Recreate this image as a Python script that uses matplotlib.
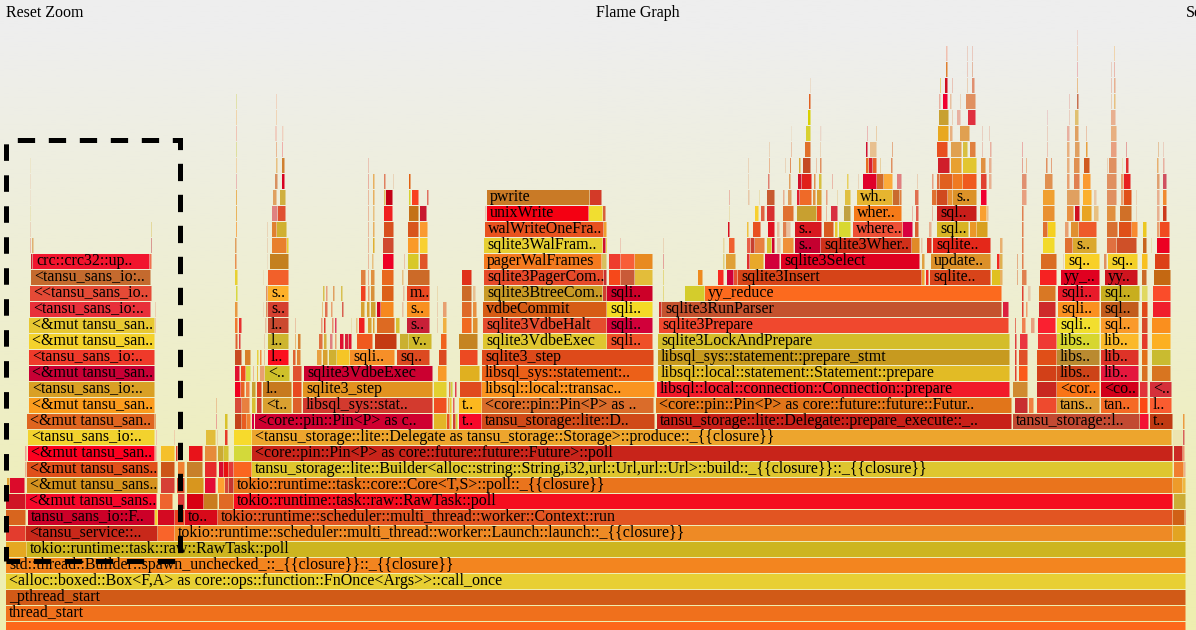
"""Flame graph of the tansu produce path, sampled stacks from the bottom frame up."""
import numpy as np
import matplotlib.pyplot as plt
from matplotlib.colors import LinearSegmentedColormap
from matplotlib.lines import Line2D

WIDTH, HEIGHT = 1196, 630
ROW = 16  # pixels per stack level

# Frames per stack depth: (first sample, last sample[, function name]), fills alongside
depth_0 = [(6, 1186)]
fills_0 = ["#fd671b"]
depth_1 = [(6, 1186, "thread_start")]
fills_1 = ["#f0701c"]
depth_2 = [(6, 1186, "_pthread_start")]
fills_2 = ["#d15a17"]
depth_3 = [(6, 1186, "<alloc::boxed::Box<F,A> as core::ops::function::FnOnce<Args>>::call_once")]
fills_3 = ["#e8cf33"]
depth_4 = [(6, 1186, "std::thread::Builder::spawn_unchecked_::_{{closure}}::_{{closure}}")]
fills_4 = ["#f3851f"]
depth_5 = [(6, 27), (27, 1186, "tokio::runtime::task::raw::RawTask::poll")]
fills_5 = ["#e5a822", "#cdb51f"]
depth_6 = [(6, 26), (26, 158, "<tansu_service::.."), (158, 175),
           (175, 1173, "tokio::runtime::scheduler::multi_thread::worker::Launch::launch::_{{closure}}"), (1173, 1186)]
fills_6 = ["#e33c2e", "#c8281a", "#f9642a", "#ee8a25", "#e2a422"]
depth_7 = [(6, 26), (28, 155, "tansu_sans_io::F.."), (155, 158), (158, 175), (175, 185), (185, 218, "to.."),
           (218, 1173, "tokio::runtime::scheduler::multi_thread::worker::Context::run"), (1173, 1185), (1185, 1186)]
fills_7 = ["#d8651e", "#cc0028", "#f4d030", "#d40a22", "#ea4020", "#d80a1a", "#e25522", "#d06016", "#e08060"]
depth_8 = [(6, 26), (26, 157, "<&mut tansu_sans.."), (160, 173), (178, 185), (187, 204), (204, 218), (219, 234),
           (234, 1173, "tokio::runtime::task::raw::RawTask::poll"), (1174, 1186)]
fills_8 = ["#cf1525", "#f5082a", "#ee642e", "#dd3a35", "#d80012", "#c97c1f", "#e06a25", "#f50d1f", "#ccac36"]
depth_9 = [(7, 10), (10, 25), (27, 158, "<&mut tansu_sans.."), (161, 175), (177, 185), (187, 204), (205, 216),
           (218, 225), (225, 229), (229, 234),
           (234, 1173, "tokio::runtime::task::core::Core<T,S>::poll::_{{closure}}"), (1173, 1183), (1183, 1186)]
fills_9 = ["#e0a030", "#dc0b2b", "#d5921e", "#d63f35", "#dd4a2a", "#d8961e", "#e30c36", "#ffa030", "#d5483a",
           "#c63530", "#ea741c", "#ed9b2a", "#eeb840"]
depth_10 = [(25, 27), (27, 158, "<&mut tansu_sans.."), (161, 175), (178, 185), (187, 203), (205, 217), (219, 224),
            (224, 229), (229, 234), (234, 252),
            (252, 1173, "tansu_storage::lite::Builder<alloc::string::String,i32,url::Url,url::Url>::build::_{{closure}}::_{{closure}}"),
            (1174, 1184), (1184, 1186)]
fills_10 = ["#e8b090", "#e0501a", "#cc5518", "#f08030", "#c8802a", "#e62a2a", "#d80a2e", "#e8100f", "#e33a3a",
            "#fa6620", "#dec62f", "#f07f2f", "#eab090"]
depth_11 = [(25, 27), (28, 155, "<&mut tansu_san.."), (155, 157), (161, 175), (176, 178), (189, 203), (205, 217),
            (218, 224), (224, 229), (234, 252),
            (252, 1173, "<core::pin::Pin<P> as core::future::future::Future>::poll"), (1174, 1183), (1183, 1185)]
fills_11 = ["#f0a090", "#fc001f", "#e8a090", "#f5c02a", "#e04030", "#e8131a", "#e68b3a", "#cbaa33", "#d4c332",
            "#d3d93a", "#c8241a", "#cb2a24", "#f09070"]
depth_12 = [(28, 155, "<tansu_sans_io:.."), (156, 157), (174, 175), (206, 216), (217, 218), (225, 228), (234, 252),
            (252, 1172, "<tansu_storage::lite::Delegate as tansu_storage::Storage>::produce::_{{closure}}"),
            (1173, 1183), (1183, 1185)]
fills_12 = ["#f2d22e", "#f0b0a0", "#f0c0a0", "#e2bd3a", "#e8c8a0", "#e63b28", "#f7da2c", "#eda52d", "#ece4b0",
            "#d9605a"]
depth_13 = [(27, 155, "<&mut tansu_san.."), (155, 156), (216, 217), (225, 228), (235, 242), (242, 247), (247, 251),
            (252, 254.5), (255, 433, "<core::pin::Pin<P> as c.."), (434, 447), (447, 450), (450, 452), (453, 456),
            (456, 458), (459, 482, "t.."), (482, 655, "tansu_storage::lite::D.."),
            (657, 1012, "tansu_storage::lite::Delegate::prepare_execute::_.."),
            (1013, 1140, "tansu_storage::l.."), (1140, 1149), (1150, 1173, "t.."), (1183, 1185)]
fills_13 = ["#df6520", "#e08040", "#e88080", "#d9c22a", "#c4421a", "#e85c20", "#f08030", "#d80040", "#cf0030",
            "#e3b527", "#e85020", "#e8c830", "#d04030", "#d8d030", "#f7082a", "#d04a18", "#c82018", "#c24a32",
            "#f31233", "#c03a12", "#ec9b40"]
depth_14 = [(29, 155, "<&mut tansu_san.."), (216, 217), (235, 242), (242, 250), (252, 256), (257, 262),
            (263, 292, "<t.."), (293, 302), (303, 433, "libsql_sys::stat.."), (434, 447), (448, 450), (450, 452),
            (453, 455), (459, 482, "t.."), (482, 654, "<core::pin::Pin<P> as .."),
            (656, 1012, "<core::pin::Pin<P> as core::future::future::Futur.."), (1015, 1028), (1029, 1034),
            (1037, 1057), (1057, 1100, "tans.."), (1101, 1139, "tan.."), (1140, 1148), (1150, 1172, "l..")]
fills_14 = ["#fb9c1e", "#e8b080", "#d84a38", "#e88040", "#d8c030", "#d04030", "#d9a030", "#de602a", "#d33a2e",
            "#f04f20", "#e8a050", "#e8c830", "#e06060", "#fcb81f", "#da6c2a", "#e1751a", "#c82e30", "#f08040",
            "#ee4a2e", "#dd9c32", "#f56a25", "#fc4a14", "#fa5c30"]
depth_15 = [(29, 155, "<tansu_sans_io:.."), (235, 241), (241, 245), (246, 250), (252, 256), (257, 262),
            (263, 292, "l.."), (293, 302), (303, 433, "sqlite3_step"), (434, 447), (449, 451), (451, 453), (455, 457),
            (460, 482), (482, 655, "libsql::local::transac.."),
            (657, 1010, "libsql::local::connection::Connection::prepare"), (1013, 1028), (1037, 1057),
            (1057, 1100, "<cor.."), (1101, 1139, "<co.."), (1140, 1148), (1150, 1172, "<..")]
fills_15 = ["#d9a025", "#f00020", "#e86020", "#f08040", "#c8a030", "#e04020", "#c77a1f", "#e84a20", "#e29220",
            "#e3d030", "#e08040", "#d0d040", "#e04050", "#e04a1e", "#fa9420", "#f11a2a", "#d08a30", "#c82820",
            "#f97516", "#d2001a", "#e0353a", "#d5303a"]
depth_16 = [(29, 155, "<&mut tansu_san.."), (235, 240), (241, 246), (246, 251), (253, 254), (257, 258.5), (260, 265),
            (265, 290, "<.."), (293, 302), (304, 433, "sqlite3VdbeExec"), (438, 447), (460, 480),
            (482, 654, "libsql_sys::statement:.."),
            (658, 1010, "libsql::local::statement::Statement::prepare"), (1015, 1017), (1019, 1028), (1037, 1057),
            (1057, 1100, "libs.."), (1101, 1139, "lib.."), (1142, 1148), (1152, 1171)]
fills_16 = ["#c80035", "#e01030", "#f04a20", "#d8d840", "#e8a080", "#e8c040", "#e8a070", "#cfc02a", "#e05030",
            "#cb0030", "#f89a28", "#e0b020", "#ec6018", "#e2bb25", "#e04030", "#fb5a1a", "#d24018", "#cd4318",
            "#e4173d", "#d87020", "#d87520"]
depth_17 = [(29, 155, "<tansu_sans_io:.."), (235, 242), (245, 251), (257, 259), (260, 262), (264, 265),
            (268, 289, "l.."), (293, 296), (297, 301), (317, 322), (323, 328), (329, 337), (337, 350),
            (350, 395, "sqli.."), (397, 430, "sq.."), (439, 447), (460, 478), (482, 654, "sqlite3_step"),
            (658, 1010, "libsql_sys::statement::prepare_stmt"), (1015, 1017), (1019, 1028), (1037, 1057),
            (1057, 1100, "libs.."), (1101, 1139, "lib.."), (1142, 1148), (1152, 1171)]
fills_17 = ["#ef3a2a", "#c84a20", "#d88028", "#e8d040", "#f09040", "#e8b080", "#fb0f1f", "#e06030", "#e08030",
            "#e8a040", "#d8a030", "#d0b030", "#f5c526", "#f68f28", "#dc4a20", "#dc4a20", "#ec4a22", "#de4a1a",
            "#c79a1f", "#e04030", "#e05028", "#e04f18", "#ba8a30", "#de3328", "#e27018", "#c9bb30"]
depth_18 = [(29, 155, "<&mut tansu_san.."), (235.5, 238), (239, 241), (264, 265), (268, 289, "l.."), (295, 296),
            (298, 301), (319, 323), (324, 327), (330, 333), (335, 337), (340, 344), (345, 349), (349, 352), (357, 373),
            (375, 397), (400, 409), (409, 432, "v.."), (441, 447), (459, 478), (483, 607, "sqlite3VdbeExec"),
            (607, 653, "sqli.."), (658, 1010, "sqlite3LockAndPrepare"), (1015, 1017), (1020, 1028), (1038, 1057),
            (1057, 1100, "libs.."), (1101, 1139, "lib.."), (1142, 1148), (1152, 1171)]
fills_18 = ["#f4d22c", "#e06030", "#e04040", "#e8c0a0", "#cdb52e", "#e8a050", "#d88030", "#e07040", "#d8b040",
            "#e08080", "#e8a070", "#e01030", "#d8203a", "#e01030", "#f0591e", "#c43a12", "#cab030", "#cfb82a",
            "#f0641e", "#c58422", "#dfc62f", "#ef5028", "#d4bd2a", "#e04040", "#ea3540", "#ef3a34", "#d7d62f",
            "#fbb92a", "#e43a2a", "#fcb022"]
depth_19 = [(29, 155, "<&mut tansu_san.."), (155.5, 156.2), (235, 238), (239, 242), (265, 267), (268, 289, "l.."),
            (295, 296), (321, 323), (324, 326), (332, 334), (335, 337), (351, 352), (356, 358), (359, 365), (368, 372),
            (373, 375), (377, 395), (396, 400), (407, 430, "s.."), (437, 438), (443, 447), (462, 472), (473, 478),
            (483, 607, "sqlite3VdbeHalt"), (607, 653, "sqli.."), (659, 1009, "sqlite3Prepare"), (1015, 1016),
            (1022, 1026), (1031, 1035), (1038, 1056), (1057, 1100, "sqli.."), (1101, 1139, "sql.."), (1142, 1148),
            (1152, 1171)]
fills_19 = ["#e8c832", "#e8a080", "#f07830", "#e83030", "#e8c0a0", "#cb4a30", "#e8b090", "#e8a080", "#e04030",
            "#e89070", "#e04060", "#e8d8a0", "#e8c080", "#f02020", "#d8a030", "#e0a030", "#dd6a22", "#d8c030",
            "#c82038", "#e8c0a0", "#f0b040", "#f06a20", "#e09030", "#e54c2e", "#d1003a", "#f0482e", "#e04030",
            "#f08050", "#e8a080", "#fa2030", "#f2de2e", "#fa9a2a", "#d84a28", "#fa8f1e"]
depth_20 = [(30, 151, "<tansu_sans_io:.."), (155, 155.6), (235, 238), (263, 263.6), (266, 268), (268, 289, "s.."),
            (322, 323.5), (325, 328), (331, 333), (342, 344), (361, 365), (367, 370), (371, 376), (377, 381),
            (381, 394), (402, 404), (407, 430, "s.."), (437, 438), (443, 447), (462, 472), (473, 477),
            (483, 607, "vdbeCommit"), (607, 653, "sqli.."), (659, 662), (662, 1002, "sqlite3RunParser"), (1003, 1009),
            (1022, 1024), (1026, 1028), (1039, 1056), (1058, 1100, "sqli.."), (1101, 1139, "sql.."), (1142, 1148),
            (1153, 1171)]
fills_20 = ["#e8303a", "#e8a080", "#e89840", "#e8c0a0", "#e09060", "#d54030", "#e8c080", "#e07050", "#e8a070",
            "#d86050", "#d8a030", "#d8a030", "#d0a030", "#d00020", "#f6881f", "#e8c0a0", "#f89020", "#e8c0a0",
            "#e8a070", "#de6a28", "#e89040", "#d65c15", "#f4da26", "#d0302a", "#c4522e", "#dc2040", "#e04030",
            "#f0a070", "#ce2a2a", "#fb9020", "#c25c1c", "#e04a1a", "#f01e2c"]
depth_21 = [(30, 152, "<<tansu_sans_io.."), (236, 238), (266, 268), (268, 289, "s.."), (323, 325), (326, 328),
            (333, 335), (341, 343), (361, 366), (368, 370), (371, 375), (382, 394), (403, 405), (407, 430, "m.."),
            (437, 438), (462, 472), (473, 476), (484, 603, "sqlite3BtreeCom.."), (603, 607), (607, 653, "sqli.."),
            (663, 664), (685, 705), (705, 1002, "yy_reduce"), (1022, 1024), (1028, 1031), (1039, 1056),
            (1058, 1100, "sqli.."), (1101, 1140, "sql.."), (1142, 1148), (1153, 1171)]
fills_21 = ["#e54a36", "#d8d840", "#e09060", "#fdb02a", "#d8c050", "#e8a080", "#e0a060", "#d8c050", "#f04020",
            "#e8a070", "#d8903a", "#dc6018", "#e8c0a0", "#e84820", "#e8d0a0", "#cc6a28", "#e8c090", "#c99a25",
            "#d04030", "#cc0028", "#e0d060", "#d4cc2c", "#fc6a1e", "#e04030", "#e8c8a8", "#d97824", "#e81a2a",
            "#c8ae1e", "#e0d860", "#fa4c2a"]
depth_22 = [(31, 151, "<tansu_sans_io:.."), (235, 238), (263, 263.6), (268, 289), (361, 366), (368, 369.5),
            (371, 375), (382, 394), (402, 404), (408, 430), (462, 472), (484, 604, "sqlite3PagerCom.."), (604, 607),
            (609, 621), (621, 635), (635, 653), (663, 664), (698, 703), (718, 724), (727, 734), (734, 738),
            (738, 922, "sqlite3Insert"), (922, 925), (926, 929), (930, 991, "sqlite.."), (992, 1002), (1000, 1003),
            (1017, 1018), (1022, 1027), (1040, 1057), (1061, 1100, "yy_.."), (1105, 1138, "yy.."), (1142, 1147),
            (1154, 1171)]
fills_22 = ["#c46a2e", "#e8d030", "#e8d0a0", "#f2602a", "#e08040", "#e8b090", "#e09040", "#e8681e", "#e8c080",
            "#cc6a28", "#e0301a", "#e64a2a", "#c83030", "#f6481a", "#c95a38", "#e3bd3a", "#e0d060", "#ee8a1e",
            "#f82a20", "#d0003a", "#e8502e", "#d64418", "#f0a030", "#f02a20", "#d8441a", "#e0c020", "#e8b060",
            "#e09060", "#e08050", "#f62222", "#e00020", "#ce151f", "#cc6a28", "#c46812"]
depth_23 = [(31, 33), (33, 150, "crc::crc32::up.."), (150, 152), (235, 237), (267, 267.6), (270, 289), (368, 369),
            (372, 374), (383, 394), (404, 405), (408, 419), (420, 428), (484, 602, "pagerWalFrames"), (602, 607),
            (609, 621), (621, 635), (635, 653), (663, 664), (723, 725), (726, 736), (747, 750), (750, 764), (765, 780),
            (781, 920, "sqlite3Select"), (922, 925), (931, 991, "update.."), (997, 1000), (1000, 1003), (1017, 1018),
            (1022, 1024), (1041, 1057), (1063, 1064), (1065, 1100, "sq.."), (1104, 1107), (1108, 1138, "sq.."),
            (1142, 1148), (1155, 1170)]
fills_23 = ["#d02030", "#f1152e", "#f07050", "#e89050", "#e8c8a8", "#c4801f", "#e8a080", "#e8c080", "#ee0025",
            "#e8b090", "#d8c828", "#e05428", "#f47a1f", "#d8c060", "#ee3c2e", "#f85e38", "#e88a20", "#e08080",
            "#e0d080", "#e0a038", "#e03030", "#e8a82a", "#d2003a", "#df0020", "#e0a040", "#dc9028", "#f02a20",
            "#e0b050", "#e09060", "#e08050", "#da6c22", "#e8c8a8", "#f8d028", "#e09060", "#f4d028", "#f8c020",
            "#dc4018"]
depth_24 = [(30, 31), (32, 34), (151, 152), (235, 237), (267, 268), (272, 287), (287, 289), (368, 369), (373, 375),
            (383, 394), (408, 419), (420, 428), (484, 603, "sqlite3WalFram.."), (603, 606), (606, 607), (620, 620.7),
            (663, 664), (723, 725), (729, 735), (747, 751), (751, 755), (755, 765), (767, 772), (772, 775), (777, 781),
            (783, 794), (795, 821, "s.."), (821, 912, "sqlite3Wher.."), (912, 920), (921, 923), (927, 932),
            (933, 991, "sqlite.."), (1000, 1003), (1022, 1024), (1043, 1055), (1065, 1073), (1073, 1097, "s.."),
            (1107, 1117), (1117, 1137), (1143, 1147), (1151, 1152), (1157, 1170)]
fills_24 = ["#e8a090", "#e0b070", "#cf7070", "#e0a060", "#e8c8a8", "#e8802c", "#e8d030", "#e8a080", "#e0b030",
            "#d04a30", "#fa9a28", "#f8d030", "#e6cf33", "#d01030", "#e8d030", "#e8a090", "#e8c8a8", "#e8d8a0",
            "#f06030", "#e8604a", "#c84030", "#e88040", "#d8c030", "#d00030", "#e8c0a0", "#ef9038", "#c40030",
            "#d0301a", "#e08a28", "#e8c8a8", "#e03020", "#e4281a", "#e8b070", "#e08050", "#f2da2a", "#e07030",
            "#dba82e", "#e07040", "#cf5028", "#c8641e", "#e8d8a0", "#ec0022"]
depth_25 = [(30, 31), (151, 152), (236, 237), (267, 268), (272, 277), (277, 287), (368, 369), (373, 375), (384, 394),
            (408, 419), (420, 428), (485, 604, "walWriteOneFra.."), (604, 607), (728, 730), (747, 749), (753, 761),
            (768, 775), (777, 780), (783, 787), (787, 791), (795, 822, "s.."), (824, 834), (835, 838), (839, 851),
            (853, 903, "where.."), (903, 913), (915, 919), (929, 932), (937, 969, "sql.."), (970, 977), (977, 988),
            (1022, 1024), (1043, 1048), (1048, 1056), (1065, 1069), (1071, 1079), (1079, 1097), (1107, 1118),
            (1119, 1132), (1132, 1138), (1143, 1147), (1157, 1160), (1160, 1170)]
fills_25 = ["#e8c8b0", "#e0d080", "#f89020", "#e8c8a8", "#e08030", "#d0b030", "#e8a080", "#e8b060", "#d8501f",
            "#d8551c", "#fa9a30", "#e8521f", "#f0a030", "#d81020", "#f0c040", "#e85020", "#e01020", "#e8c0a0",
            "#e08050", "#e8c0a0", "#d81820", "#d85a20", "#e8c830", "#d8d830", "#ee5036", "#d80040", "#d86030",
            "#e8b090", "#d8b425", "#ea9828", "#d8a020", "#e08050", "#e07030", "#f5d020", "#e8a070", "#e09030",
            "#ee5a2a", "#d87030", "#df5018", "#f88a30", "#ecc822", "#e8a070", "#f04a20"]
depth_26 = [(30.5, 31), (236, 237), (272, 278), (278, 286), (368, 369), (373, 375), (384, 393), (409, 419), (420, 427),
            (485, 487), (487, 589, "unixWrite"), (589, 603), (603, 606), (729, 730), (755, 759), (761, 765),
            (767, 775), (783, 794), (797, 817), (817, 822), (826, 827), (831, 838), (844, 851),
            (854, 902, "wher.."), (912, 913), (916, 919), (932, 933), (937, 977, "sql.."), (980, 987), (987, 989),
            (1022, 1024), (1043, 1055), (1067, 1074), (1075, 1080), (1082, 1092), (1094, 1099), (1107, 1116),
            (1120, 1132), (1136, 1137), (1157, 1160), (1163, 1167)]
fills_26 = ["#e0d080", "#e89820", "#e08080", "#e05030", "#e8a080", "#e8c080", "#f02020", "#c47218", "#c81830",
            "#e8c0b0", "#f40012", "#f1de30", "#d8603a", "#e8d8a0", "#f8d030", "#e06040", "#d83030", "#e07030",
            "#c8a030", "#f04a20", "#e8a080", "#d83040", "#c0a040", "#f57a18", "#e8a090", "#e06050", "#e8a080",
            "#c81e1a", "#f9a030", "#e8c090", "#e08050", "#e89030", "#e89040", "#d01020", "#e8a424", "#e8c080",
            "#e09040", "#d07028", "#e8c8a8", "#e8b090", "#cc3a1c"]
depth_27 = [(30.5, 31), (236, 237), (273, 277), (280, 286), (368, 369), (373, 375), (384, 386), (386, 393), (409, 411),
            (412, 419), (427, 429), (487, 590, "pwrite"), (590, 602), (729, 730), (748, 750), (759, 760), (767, 775),
            (783, 785), (788, 792), (797, 800), (800, 812), (813, 816), (817, 822), (826, 828), (837, 838), (845, 851),
            (857, 893, "wh.."), (893, 900), (900, 902), (915, 919), (932, 937), (937, 948), (948, 953),
            (953, 977, "s.."), (981, 987), (1022, 1027), (1043, 1055), (1067, 1080), (1083, 1092), (1094, 1097),
            (1107, 1117), (1121, 1124), (1124, 1132), (1136, 1137), (1157, 1160), (1163, 1167)]
fills_27 = ["#e8c8b0", "#e89820", "#e0a060", "#d0b040", "#e8a080", "#e8b060", "#e0c060", "#c40015", "#d8d030",
            "#f84020", "#e07060", "#c97a26", "#d33a28", "#e8a090", "#e8c8a8", "#e8d8a0", "#c85a30", "#e8b090",
            "#e0a060", "#e02030", "#ef6a28", "#e09040", "#d8a030", "#e8a080", "#e8d0a0", "#e0c040", "#e6b52f",
            "#c96a2e", "#e08040", "#e07050", "#e07030", "#d04a1e", "#e89030", "#dc9228", "#f00030", "#e8a080",
            "#f0a030", "#e0a060", "#fbb02c", "#e8c8a8", "#e09060", "#e8a070", "#e05018", "#e8c8a8", "#e8b090",
            "#f08a30"]
depth_28 = [(30.5, 31), (236, 237), (275, 278), (282, 285), (368, 369.5), (373, 375), (384, 386), (393, 394), (409, 411),
            (748, 749), (768, 770), (789, 791), (798, 802), (802, 812), (814, 816), (819, 822), (832, 833), (847, 849),
            (858, 859), (863, 877), (877, 884), (884, 893), (897, 902), (917, 918), (932, 934), (937, 940), (940, 953),
            (953, 963), (963, 977), (981, 987), (989, 992), (1022, 1027), (1045, 1053), (1067, 1070), (1074, 1080),
            (1083, 1091), (1107, 1117), (1121, 1124), (1124, 1131), (1157, 1160), (1163, 1167)]
fills_28 = ["#e8c0a0", "#e8a0a0", "#d89060", "#d80020", "#e8b0a0", "#e8b060", "#e08060", "#e8c8a8", "#e06010",
            "#e8c8a8", "#e08070", "#e0a060", "#d0102a", "#e0201a", "#e09050", "#d8c040", "#e8a090", "#e8d060",
            "#e8c8a8", "#e0002a", "#d06a2a", "#fcaa3a", "#e08080", "#e8c0a0", "#e8a080", "#e07040", "#e06020",
            "#ef7a22", "#ef5a1e", "#e04030", "#e8b090", "#e09070", "#e09050", "#e8a070", "#e08050", "#fa9a30",
            "#e09060", "#e8a070", "#e82020", "#e0a070", "#d05060"]
depth_29 = [(30.5, 31), (236, 237), (276, 278), (282, 285), (368, 369), (748, 749), (769, 770), (785, 786), (790, 791.5),
            (799, 801), (803, 811), (816, 817), (820, 822), (866, 869), (869, 873), (873, 877), (880, 881.5),
            (891, 893), (938, 950), (951, 962), (963, 977), (981, 986), (989, 992), (1022, 1023), (1026, 1027),
            (1046, 1048), (1051, 1052), (1067, 1070), (1074, 1080), (1084, 1090), (1107, 1108), (1109, 1117),
            (1122, 1123), (1126, 1129), (1157, 1159), (1163, 1165)]
fills_29 = ["#e8d8a0", "#f0c890", "#e8c080", "#d08030", "#e8b0a0", "#e8c8a8", "#e8a070", "#e8c8a8", "#e09060",
            "#d8b040", "#c44a22", "#e8b090", "#e09060", "#e86a20", "#d82030", "#e8602a", "#e8d0a0", "#e09060",
            "#d01e2a", "#e8a030", "#e2c630", "#e09040", "#e8b090", "#e08070", "#e8a070", "#e09060", "#e08050",
            "#e8b080", "#e09050", "#d05a20", "#e8c0a0", "#e09060", "#e8d8a0", "#e03030", "#e8b070", "#e8b0a0"]
depth_30 = [(236, 237), (276, 277), (282, 283), (769, 770), (791, 792), (805, 811), (820, 821), (866, 868), (870, 877),
            (892, 893), (937, 948), (951, 962), (963, 968), (970, 976), (982, 983), (990, 992), (1022, 1023),
            (1047, 1048), (1067, 1070), (1075, 1080), (1086, 1088), (1111, 1117), (1126, 1127), (1158, 1159),
            (1163, 1164)]
fills_30 = ["#d8d880", "#e8a070", "#f09090", "#e8c8a8", "#e8b090", "#e0702a", "#e8c8a8", "#d01030", "#e8c090",
            "#e09060", "#e85020", "#e0a050", "#d8c040", "#e08040", "#e8b0a0", "#e8b0a0", "#e89090", "#e8b0a0",
            "#e8b080", "#e0a060", "#e8a040", "#e8a080", "#e08080", "#e0b080", "#e8c0b0"]
depth_31 = [(236, 237), (275.5, 277), (282, 283), (283.5, 284), (791.5, 792), (806, 811), (820.5, 821.5), (867, 868),
            (876, 877), (938, 949), (950, 953), (960, 970), (982, 983), (989, 990), (1047, 1048), (1067, 1070),
            (1075, 1079), (1086, 1087), (1111, 1117)]
fills_31 = ["#f0b0a0", "#f0b0a0", "#f0c0b0", "#f0d0b0", "#e8c8a8", "#d8d030", "#e8c0b0", "#e8a0a0", "#e8c090",
            "#e8a820", "#e8b080", "#e0a050", "#e8c0b0", "#e8c0b0", "#e8c0b0", "#e8b0a0", "#e0a060", "#e8b090",
            "#e8b080"]
depth_32 = [(236, 237), (276, 277), (808, 811), (939, 949), (952, 953), (957, 961), (968, 976), (1047, 1048),
            (1069, 1070), (1075, 1079), (1111, 1116)]
fills_32 = ["#f0c890", "#f0c8a0", "#d8d000", "#c8a030", "#e8c0a0", "#e8b0a0", "#e03040", "#e8c0c0", "#e8c0b0",
            "#e0c070", "#e8b090"]
depth_33 = [(236, 237), (276, 277), (809, 811), (939, 941), (943, 948), (950, 952), (960, 961), (966, 976),
            (1069, 1070), (1077, 1079), (1111, 1112), (1114, 1116)]
fills_33 = ["#dcdc90", "#f0c8b0", "#e06020", "#e8b0a0", "#f00030", "#e8c0a0", "#e8c8a8", "#e09060", "#e8b8b0",
            "#c87050", "#e8c0a0", "#e8c080"]
depth_34 = [(810, 810.7), (940, 941), (945, 948), (952, 953), (967, 968), (972, 975), (1077, 1078), (1111, 1112),
            (1114, 1116)]
fills_34 = ["#e8c8a8", "#e8c850", "#d01020", "#e8b0a0", "#e8c0a0", "#e09070", "#e8a860", "#e8b0a0", "#e8b090"]
depth_35 = [(946, 948), (967, 968), (972, 973), (1077, 1078), (1111, 1112), (1114, 1115)]
fills_35 = ["#e08030", "#e8b8a8", "#e0a080", "#e8a0a0", "#e8c0b0", "#e8a090"]
depth_36 = [(946, 948), (967, 968), (972, 973), (1077, 1078), (1114, 1115)]
fills_36 = ["#f0c0b0", "#e8c0b0", "#e8b8a8", "#f0c0a0", "#f0c890"]
depth_37 = [(1077, 1078)]
fills_37 = ["#ecc8c0"]

frames = [depth_0, depth_1, depth_2, depth_3, depth_4, depth_5, depth_6, depth_7, depth_8, depth_9, depth_10,
          depth_11, depth_12, depth_13, depth_14, depth_15, depth_16, depth_17, depth_18, depth_19, depth_20,
          depth_21, depth_22, depth_23, depth_24, depth_25, depth_26, depth_27, depth_28, depth_29, depth_30,
          depth_31, depth_32, depth_33, depth_34, depth_35, depth_36, depth_37]
fills = [fills_0, fills_1, fills_2, fills_3, fills_4, fills_5, fills_6, fills_7, fills_8, fills_9, fills_10,
         fills_11, fills_12, fills_13, fills_14, fills_15, fills_16, fills_17, fills_18, fills_19, fills_20,
         fills_21, fills_22, fills_23, fills_24, fills_25, fills_26, fills_27, fills_28, fills_29, fills_30,
         fills_31, fills_32, fills_33, fills_34, fills_35, fills_36, fills_37]

plt.rcParams['font.family'] = ['Liberation Serif', 'DejaVu Serif']
plt.rcParams['lines.scale_dashes'] = False

fig = plt.figure(figsize=(WIDTH / 100, HEIGHT / 100), dpi=100)
ax = fig.add_axes([0, 0, 1, 1])
ax.axis("off")

# page background, pale grey fading to pale yellow
shade = LinearSegmentedColormap.from_list(
    "flame_bg", [(0, "#eeeeee"), (0.05, "#eeeeee"), (0.95, "#eeeeb0"), (1, "#eeeeb0")])
ramp = np.linspace(0, 1, 256).reshape(-1, 1)
ax.imshow(ramp, cmap=shade, aspect="auto", extent=(0, WIDTH, 7 / ROW, 637 / ROW), origin="upper", zorder=0)

# depth d occupies the pixel rows 622 - 16 d .. 637 - 16 d
ax.set_xlim(0, WIDTH)
ax.set_ylim(7 / ROW, 637 / ROW)

# Frames and their names, with a hairline left between neighbours
for depth, (row, colours) in enumerate(zip(frames, fills, strict=True)):
    for frame, colour in zip(row, colours, strict=True):
        span = frame[1] - frame[0]
        bar = ax.barh(depth, span - min(0.5, span / 3), left=frame[0], height=15 / ROW, align="edge",
                      color=colour, linewidth=0, zorder=2)[0]
        bar.set_snap(False)
        if len(frame) > 2:
            ax.text(frame[0] + 3, depth + 4.4 / ROW, frame[2], fontsize=11.5, color="black", va="baseline",
                    ha="left", zorder=3)

fig.text(6 / WIDTH, 1 - 17 / HEIGHT, "Reset Zoom", fontsize=11.5, color="black")
fig.text(637.5 / WIDTH, 1 - 17 / HEIGHT, "Flame Graph", fontsize=11.5, color="black", ha="center")
fig.text(1186 / WIDTH, 1 - 17 / HEIGHT, "Search", fontsize=11.5, color="black")

# Dashed selection box: top, right and bottom run as one stroke, the left side apart
box_style = dict(transform=fig.transFigure, color="black", linewidth=3.6, dash_capstyle="butt",
                 dash_joinstyle="miter", zorder=5)
box_x = np.array([6, 180, 180, 6]) / WIDTH
box_y = 1 - np.array([140, 140, 561, 561]) / HEIGHT
fig.add_artist(Line2D(box_x, box_y, linestyle=(14.18, (12.46, 9.86)), **box_style))
fig.add_artist(Line2D([6 / WIDTH, 6 / WIDTH], 1 - np.array([561, 142.7]) / HEIGHT,
                      linestyle=(1.44, (11.9, 10.4)), **box_style))

fig.savefig("out.png", dpi=100)
